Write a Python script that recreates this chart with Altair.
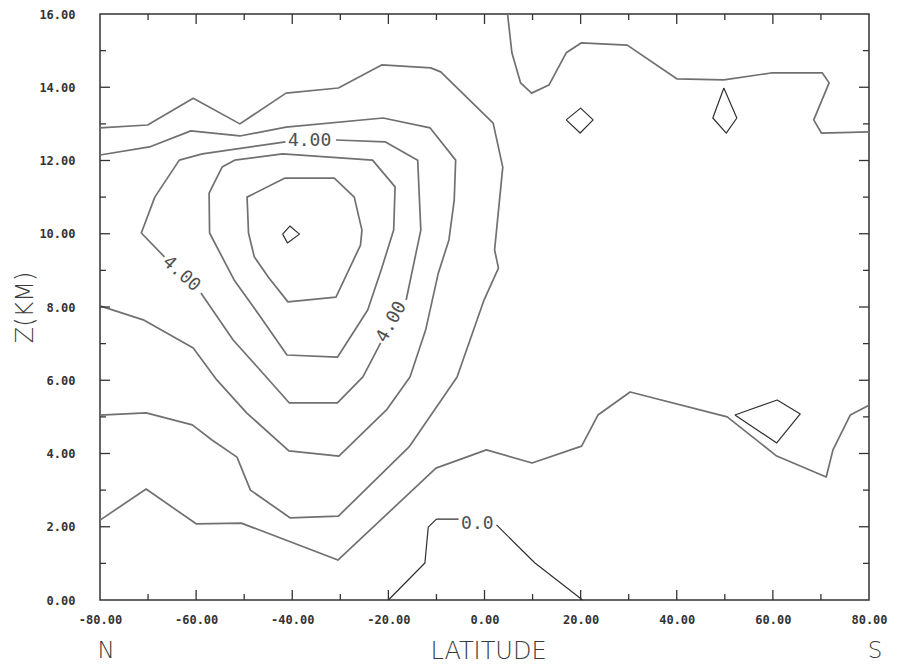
import altair as alt
import pandas as pd

# ---------------- data (latitude in degrees, height in km) ----------------
# level 1 contour (lower band)
c1_lat = [-80, -70.4, -60.0, -50.6, -30.5, -10.1, 0.4, 9.9, 20.2, 23.6, 30.3, 50.5, 60.8, 71.1, 72.5, 76.1, 80]
c1_z = [2.18, 3.03, 2.08, 2.10, 1.09, 3.60, 4.10, 3.74, 4.20, 5.05, 5.68, 5.00, 3.93, 3.36, 4.10, 5.05, 5.32]
# level 2 contour
c2_lat = [-80, -70.1, -60.6, -50.9, -41.3, -30.4, -21.4, -11.2, -9.1, 1.8, 3.8, 2.1, 2.9, -0.1, -5.7,
          -15.7, -30.4, -40.4, -48.7, -51.5, -56.7, -60.8, -70.4, -80]
c2_z = [12.89, 12.97, 13.70, 13.00, 13.84, 13.98, 14.61, 14.53, 14.42, 13.02, 11.82, 9.56, 9.06, 8.19, 6.09,
        4.18, 2.29, 2.24, 3.00, 3.90, 4.37, 4.78, 5.11, 5.05]
# level 3 contour
c3_lat = [-80, -69.7, -61.1, -50.9, -41.3, -21.1, -11.3, -6.0, -6.3, -7.4, -9.6, -12.25, -15.5, -20.4,
          -30.3, -40.7, -49.5, -55.7, -60.6, -71.0, -80]
c3_z = [12.15, 12.37, 12.81, 12.67, 12.91, 13.16, 12.89, 12.01, 10.92, 9.83, 8.93, 7.37, 6.09, 5.19,
        3.93, 4.07, 5.11, 6.01, 6.88, 7.65, 8.03]
# level 4 contour (closed, broken where labelled)
c4a_lat = [-30.9, -20.7, -13.9, -13.25, -16.3]
c4a_z = [12.56, 12.51, 12.01, 10.10, 8.19]
c4b_lat = [-21.6, -25.3, -30.6, -40.6, -46.7, -52.3, -59.0]
c4b_z = [7.02, 6.09, 5.38, 5.38, 6.28, 7.10, 8.38]
c4c_lat = [-66.6, -71.4, -68.6, -63.5, -58.7, -41.4]
c4c_z = [9.37, 10.02, 11.00, 12.01, 12.18, 12.51]
# level 5 contour (closed)
c5_lat = [-52.0, -54.6, -57.3, -57.2, -52.1, -46.6, -41.1, -30.6, -24.3, -21.5, -18.9, -18.6, -23.3, -42.0, -52.0]
c5_z = [12.01, 11.82, 11.11, 10.02, 8.74, 7.73, 6.69, 6.63, 7.92, 9.01, 10.10, 11.28, 12.01, 12.18, 12.01]
# level 6 contour (closed)
c6_lat = [-41.5, -49.4, -49.1, -47.9, -45.0, -40.9, -30.9, -25.8, -25.5, -27.1, -31.25, -41.5]
c6_z = [11.52, 11.00, 10.02, 9.37, 8.82, 8.14, 8.27, 9.69, 10.10, 11.00, 11.52, 11.52]
# level 7 (small closed loop at the maximum)
c7_lat = [-42.0, -40.5, -38.5, -41.0, -42.0]
c7_z = [9.99, 10.21, 9.99, 9.75, 9.99]
# upper right contour
tr_lat = [4.8, 5.7, 7.5, 9.8, 13.4, 17.0, 20.1, 29.7, 40.0, 49.8, 59.6, 70.3, 71.7, 68.5, 70.1, 80]
tr_z = [16.0, 14.94, 14.12, 13.84, 14.06, 14.94, 15.21, 15.15, 14.23, 14.20, 14.39, 14.39, 14.12, 13.11, 12.75, 12.78]
# small closed loops on the right
d1_lat = [17.0, 20.0, 22.6, 19.9, 17.0]
d1_z = [13.11, 13.43, 13.11, 12.75, 13.11]
kite_lat = [49.8, 52.5, 50.3, 47.5, 49.8]
kite_z = [13.98, 13.16, 12.75, 13.16, 13.98]
quad_lat = [52.1, 60.9, 65.7, 60.8, 52.1]
quad_z = [5.05, 5.46, 5.08, 4.29, 5.05]
# zero contour (broken at label)
c0a_lat = [-20.0, -12.4, -11.7, -10.0, -5.4]
c0a_z = [0.0, 1.01, 1.99, 2.21, 2.21]
c0b_lat = [2.5, 10.5, 20.4]
c0b_z = [2.05, 1.01, 0.0]

# contour labels
lab_lat = [-36.4, -63.1, -19.3, -1.5]
lab_z = [12.54, 8.90, 7.59, 2.08]
lab_text = ["4.00", "4.00", "4.00", "0.0"]
lab_angle = [0, 42, 299, 0]

# axes
x_label_vals = [-80, -60, -40, -20, 0, 20, 40, 60, 80]
y_label_vals = [0, 2, 4, 6, 8, 10, 12, 14, 16]
x_major = [-60, -40, -20, 0, 20, 40, 60]
x_minor = [-70, -50, -30, -10, 10, 30, 50, 70]
y_major = [2, 4, 6, 8, 10, 12, 14]
y_minor = [1, 3, 5, 7, 9, 11, 13, 15]
ends_lat = [-80, 80]
ends_text = ["N", "S"]

# ---------------- build tables ----------------
def build(segments):
    rows = []
    for sid, (lats, zs) in enumerate(segments):
        for i, (a, b) in enumerate(zip(lats, zs)):
            rows.append({"seg": sid, "ord": i, "lat": a, "z": b})
    return pd.DataFrame(rows)

main_df = build([(c1_lat, c1_z), (c2_lat, c2_z), (c3_lat, c3_z), (c4a_lat, c4a_z), (c4b_lat, c4b_z),
                 (c4c_lat, c4c_z), (c5_lat, c5_z), (c6_lat, c6_z), (tr_lat, tr_z)])
thin_df = build([(c7_lat, c7_z), (d1_lat, d1_z), (kite_lat, kite_z), (quad_lat, quad_z),
                 (c0a_lat, c0a_z), (c0b_lat, c0b_z)])
lab_df = pd.DataFrame({"lat": lab_lat, "z": lab_z, "t": lab_text, "ang": lab_angle})

W, H = 769, 586
AX = "#333333"

xscale = alt.Scale(domain=[-80, 80], nice=False, zero=False)
yscale = alt.Scale(domain=[0, 16], nice=False, zero=False)

x_axis = alt.Axis(values=x_label_vals,
                  labelExpr="(datum.value < 0 ? '-' : '') + format(abs(datum.value), '.2f')",
                  labelFont="DejaVu Sans Mono", labelFontSize=12, labelFontWeight="bold",
                  labelColor=AX, labelPadding=14, labelFlush=False, ticks=False, tickSize=0,
                  domain=False, grid=False,
                  title="LATITUDE", titleFont="DejaVu Sans", titleFontSize=24, titleFontWeight=200,
                  titleColor="#3a3a3a", titleX=388, titleY=58, titleBaseline="alphabetic",
                  titleAlign="center")
y_axis = alt.Axis(values=y_label_vals, format=".2f",
                  labelFont="DejaVu Sans Mono", labelFontSize=12, labelFontWeight="bold",
                  labelColor=AX, labelPadding=25, labelFlush=False, ticks=False, tickSize=0,
                  domain=False, grid=False,
                  title="Z(KM)", titleFont="DejaVu Sans", titleFontSize=24, titleFontWeight=200,
                  titleColor="#3a3a3a", titleX=-68, titleY=293, titleAngle=270,
                  titleBaseline="alphabetic", titleAlign="center")

main = alt.Chart(main_df).mark_line(color="#707070", strokeWidth=1.7, strokeJoin="round").encode(
    x=alt.X("lat:Q", scale=xscale, axis=x_axis),
    y=alt.Y("z:Q", scale=yscale, axis=y_axis),
    detail="seg:N",
    order="ord:Q",
)
thin = alt.Chart(thin_df).mark_line(color="#303030", strokeWidth=1.2, strokeJoin="round").encode(
    x="lat:Q", y="z:Q", detail="seg:N", order="ord:Q"
)
labels = alt.Chart(lab_df).mark_text(font="DejaVu Sans Mono", fontSize=18, color="#505050",
                                     align="center", baseline="middle").encode(
    x="lat:Q", y="z:Q", text="t:N", angle=alt.Angle("ang:Q", scale=None)
)

def xticks(vals, length):
    df = pd.DataFrame({"lat": vals})
    bot = alt.Chart(df).mark_rule(color=AX, strokeWidth=1.3).encode(
        x="lat:Q", y=alt.value(H), y2=alt.value(H - length))
    top = alt.Chart(df).mark_rule(color=AX, strokeWidth=1.3).encode(
        x="lat:Q", y=alt.value(0), y2=alt.value(length))
    return [bot, top]

def yticks(vals, length):
    df = pd.DataFrame({"z": vals})
    left = alt.Chart(df).mark_rule(color=AX, strokeWidth=1.3).encode(
        y="z:Q", x=alt.value(0), x2=alt.value(length))
    right = alt.Chart(df).mark_rule(color=AX, strokeWidth=1.3).encode(
        y="z:Q", x=alt.value(W), x2=alt.value(W - length))
    return [left, right]

tick_layers = xticks(x_major, 10) + xticks(x_minor, 6) + yticks(y_major, 10) + yticks(y_minor, 6)

ends = alt.Chart(pd.DataFrame({"lat": ends_lat, "t": ends_text})).mark_text(
    font="DejaVu Sans", fontSize=23, fontWeight=200, color="#3a3a3a", align="center",
    baseline="alphabetic", dx=6).encode(x="lat:Q", y=alt.value(644), text="t:N")

chart = alt.layer(main, thin, labels, *tick_layers, ends).properties(
    width=W, height=H,
    autosize=alt.AutoSizeParams(type="none"),
    padding={"left": 100, "top": 14, "right": 33, "bottom": 68},
    background="white",
).configure_view(stroke=AX, strokeWidth=1.5)

chart.save("out.html", embed_options={"renderer": "svg", "actions": False})
